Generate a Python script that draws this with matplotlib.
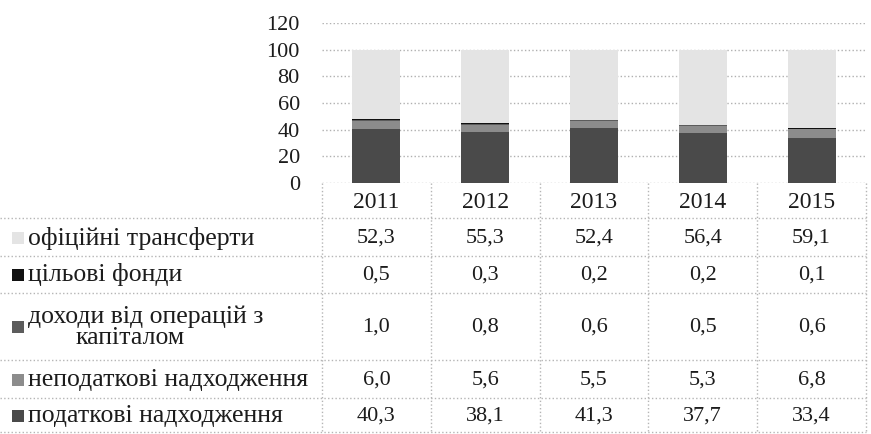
import matplotlib
matplotlib.use("Agg")
import matplotlib.pyplot as plt
import matplotlib.transforms as mtransforms
from matplotlib.patches import Rectangle

plt.rcParams['font.family'] = ['Liberation Serif', 'DejaVu Serif']

years = ['2011', '2012', '2013', '2014', '2015']
# from bottom of the stack to the top
podatkovi = [40.3, 38.1, 41.3, 37.7, 33.4]
nepodatkovi = [6.0, 5.6, 5.5, 5.3, 6.8]
kapital = [1.0, 0.8, 0.6, 0.5, 0.6]
tsilovi = [0.5, 0.3, 0.2, 0.2, 0.1]
transferty = [52.3, 55.3, 52.4, 56.4, 59.1]

series_names = ['податкові надходження', 'неподаткові надходження',
                'доходи від операцій з\nкапіталом', 'цільові фонди',
                'офіційні трансферти']
series_values = [podatkovi, nepodatkovi, kapital, tsilovi, transferty]
colors = ['#4a4a4a', '#8c8c8c', '#5c5c5c', '#111111', '#e4e4e4']
hatches = ['////', '////', '////', None, None]

yticks = [0, 20, 40, 60, 80, 100, 120]
TXT = '#1c1c1c'

W, H = 871, 434
fig = plt.figure(figsize=(W / 100, H / 100), dpi=100)

# plot area in pixels
left, right, top, bottom = 322, 866, 23, 183
ax = fig.add_axes([left / W, 1 - bottom / H, (right - left) / W, (bottom - top) / H])

x = list(range(len(years)))
base = [0] * len(years)
matplotlib.rcParams['hatch.linewidth'] = 0.4
for vals, col, hat in zip(series_values, colors, hatches):
    ax.bar(x, vals, bottom=base, width=0.44, color=col, edgecolor='none',
           hatch=hat, zorder=3)
    base = [b + v for b, v in zip(base, vals)]

ax.set_xlim(-0.5, len(years) - 0.5)
ax.set_ylim(0, 120)
ax.set_yticks(yticks)
ax.set_yticklabels([str(t) for t in yticks], fontsize=16, color=TXT)
ax.tick_params(axis='y', length=0, pad=16)
ax.set_xticks([])
for s in ax.spines.values():
    s.set_visible(False)
ax.grid(axis='y', linestyle=':', color='#b0b0b0', linewidth=1, zorder=0)

# overlay in pixel coordinates for the data table
ov = fig.add_axes([0, 0, 1, 1], zorder=-1)
ov.set_xlim(0, W)
ov.set_ylim(H, 0)
ov.axis('off')
tr = mtransforms.blended_transform_factory(ax.transData, ov.transData)

line_kw = dict(linestyle=':', color='#b5b5b5', linewidth=1)
for yl in [218, 256, 293, 360, 398, 432]:
    ov.plot([0, right], [yl, yl], **line_kw)
ov.plot([left, left], [bottom, 432], **line_kw)
for i in range(len(years)):
    ov.plot([i + 0.5, i + 0.5], [bottom, 432], transform=tr, **line_kw)

for i, yr in enumerate(years):
    ov.text(i, 202, yr, transform=tr, ha='center', va='center', fontsize=17,
            color=TXT)

# table rows: top to bottom
row_y = [238, 275, 327, 380, 416]
order = [4, 3, 2, 1, 0]
for ry, k in zip(row_y, order):
    ov.add_patch(Rectangle((12, ry - 6), 12, 12, facecolor=colors[k],
                           hatch=hatches[k], edgecolor='none'))
    name = series_names[k]
    if '\n' in name:
        l1, l2 = name.split('\n')
        ov.text(28, ry - 10, l1, ha='left', va='center', fontsize=18.5, color=TXT)
        ov.text(130, ry + 11, l2, ha='center', va='center', fontsize=18.5, color=TXT)
    else:
        ov.text(28, ry, name, ha='left', va='center', fontsize=18.5, color=TXT)
    for i, v in enumerate(series_values[k]):
        ov.text(i, ry, f"{v:.1f}".replace('.', ','), transform=tr, ha='center',
                va='center', fontsize=16, color=TXT)

fig.savefig('out.png', dpi=100)
